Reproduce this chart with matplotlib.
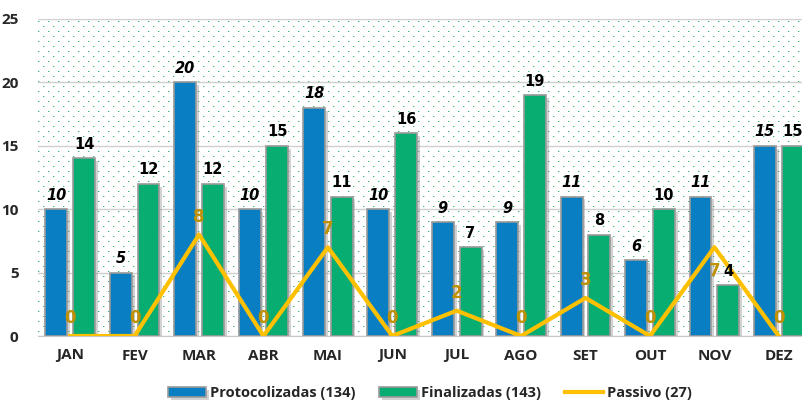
import numpy as np
import matplotlib.pyplot as plt
import matplotlib.patheffects as pe

meses = ["JAN", "FEV", "MAR", "ABR", "MAI", "JUN", "JUL", "AGO", "SET", "OUT", "NOV", "DEZ"]
protocolizadas = [10, 5, 20, 10, 18, 10, 9, 9, 11, 6, 11, 15]
finalizadas = [14, 12, 12, 15, 11, 16, 7, 19, 8, 10, 4, 15]
passivo = [0, 0, 8, 0, 7, 0, 2, 0, 3, 0, 7, 0]

azul = "#0A7EC2"
verde = "#08AD72"
amarelo = "#FFC000"
dourado = "#BF9000"

fig = plt.figure(figsize=(8.03, 4.05), dpi=100)
ax = fig.add_axes([38 / 803, 1 - 336 / 405, 773 / 803, 317 / 405])

# fundo pontilhado verde
W, H = 773, 317
fundo = np.ones((H, W, 3))
rr, cc = np.mgrid[0:H, 0:W]
pontos = (rr % 5 == 2) & ((cc + (rr // 5 % 2) * 5) % 10 == 0)
fundo[pontos] = [0.22, 0.72, 0.45]
vizinho = np.roll(pontos, 1, axis=1)
fundo[vizinho & ~pontos] = [0.72, 0.9, 0.78]
ax.imshow(fundo, extent=[0, 1, 0, 1], transform=ax.transAxes, aspect="auto",
          interpolation="nearest", zorder=0)

x = np.arange(len(meses))
w = 0.34
sombra = [pe.SimplePatchShadow(offset=(2, -2), shadow_rgbFace="#808080", alpha=0.35), pe.Normal()]

b1 = ax.bar(x - 0.215, protocolizadas, w, color=azul, edgecolor="#9a9a9a", linewidth=1.2,
            label="Protocolizadas (134)", zorder=3)
b2 = ax.bar(x + 0.215, finalizadas, w, color=verde, edgecolor="#9a9a9a", linewidth=1.2,
            label="Finalizadas (143)", zorder=3)
for b in list(b1) + list(b2):
    b.set_path_effects(sombra)

ln, = ax.plot(x, passivo, color=amarelo, lw=3, label="Passivo (27)", zorder=4)

for xi, v in zip(x, protocolizadas):
    ax.text(xi - 0.215, v + 0.5, str(v), ha="center", va="bottom", fontsize=10.5,
            fontweight="bold", style="italic", family="DejaVu Sans", color="black", zorder=5)
for xi, v in zip(x, finalizadas):
    ax.text(xi + 0.215, v + 0.5, str(v), ha="center", va="bottom", fontsize=10.5,
            fontweight="bold", family="DejaVu Sans", color="black", zorder=5)
for i, (xi, v) in enumerate(zip(x, passivo)):
    dy = -2.6 if i == 10 else 0.7
    ax.text(xi, v + dy, str(v), ha="center", va="bottom", fontsize=12,
            fontweight="bold", family="DejaVu Sans", color=dourado, zorder=5)

ax.set_ylim(0, 25)
ax.set_xlim(-0.5, 11.5)
ax.set_yticks([0, 5, 10, 15, 20, 25])
ax.set_xticks(x)
ax.set_xticklabels(meses)
ax.yaxis.grid(True, color="#d0d0d0", lw=1, zorder=1)
for s in ["top", "right", "left"]:
    ax.spines[s].set_visible(False)
ax.spines["bottom"].set_color("#c8c8c8")
ax.tick_params(length=0, labelsize=11, pad=9)
ax.tick_params(axis="y", pad=14)
for t in ax.get_xticklabels() + ax.get_yticklabels():
    t.set_fontweight("bold")
    t.set_family("Open Sans")
    t.set_color("#262626")

leg = fig.legend(handles=[b1, b2, ln], loc="center", bbox_to_anchor=(430 / 803, 1 - 393 / 405),
                 ncol=3, frameon=False,
                 prop={"family": "Open Sans", "weight": "bold", "size": 10.5},
                 handlelength=2.6, columnspacing=1.6, handletextpad=0.3)
for t in leg.get_texts():
    t.set_color("#262626")

fig.savefig("out.png", dpi=100)
